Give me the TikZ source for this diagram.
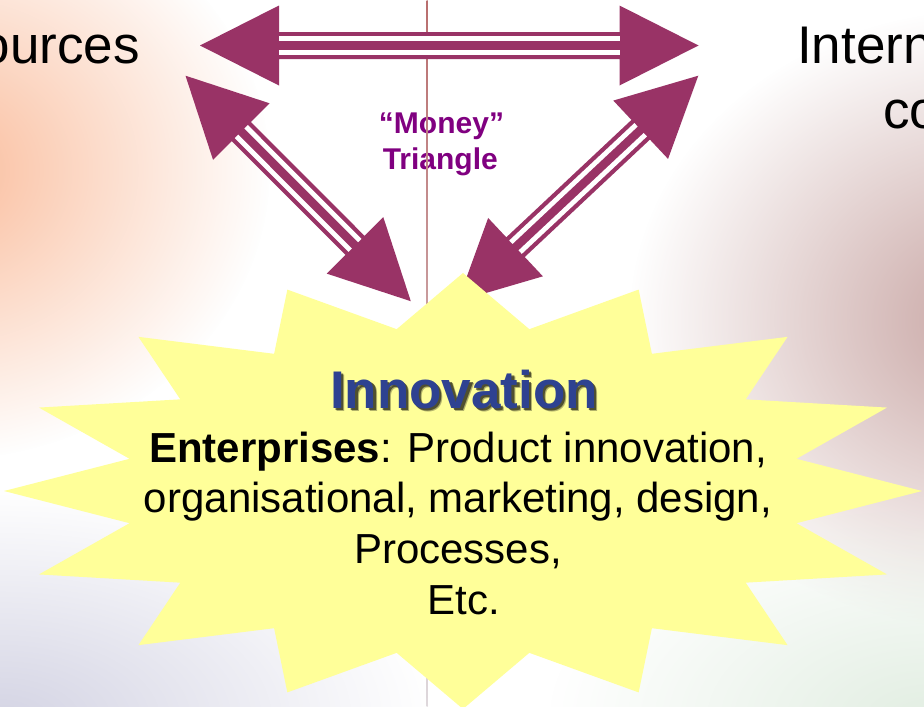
\documentclass[tikz,border=0pt]{standalone}
\usepackage{fontspec}
\setmainfont{Liberation Sans}
\usetikzlibrary{calc,fadings}
\tikzfading[name=blobfade, inner color=transparent!0, outer color=transparent!100]
\definecolor{arrowcol}{RGB}{153,51,102}
\definecolor{starcol}{RGB}{255,255,153}
\definecolor{moneycol}{RGB}{128,0,128}
\definecolor{innocol}{RGB}{46,66,145}
\definecolor{bgorange}{RGB}{250,188,155}
\definecolor{bgmauve}{RGB}{200,165,163}
\definecolor{bglav}{RGB}{212,212,228}
\definecolor{bggreen}{RGB}{226,238,226}
\definecolor{linetop}{RGB}{185,110,110}
\definecolor{linebot}{RGB}{222,216,220}
\def\HL{79pt}
\def\HW{40pt}
\def\SW{13.5pt}
\newcommand\triparrow[2]{%
  \fill[arrowcol] (#1)
    -- ($(#1)!\HL!(#2)!\HW!90:(#2)$) -- ($(#1)!\HL!(#2)!\SW!90:(#2)$)
    -- ($(#2)!\HL!(#1)!\SW!-90:(#1)$) -- ($(#2)!\HL!(#1)!\HW!-90:(#1)$)
    -- (#2)
    -- ($(#2)!\HL!(#1)!\HW!90:(#1)$) -- ($(#2)!\HL!(#1)!\SW!90:(#1)$)
    -- ($(#1)!\HL!(#2)!\SW!-90:(#2)$) -- ($(#1)!\HL!(#2)!\HW!-90:(#2)$)
    -- cycle;
  \foreach \o in {6.8pt,-6.8pt}
    \draw[white, line width=4.8pt] ($(#1)!\HL!(#2)!\o!90:(#2)$) -- ($(#2)!\HL!(#1)!\o!-90:(#1)$);
}
\tikzset{
  side/.style={inner sep=0pt, font=\fontsize{53}{63}\selectfont, text=black},
  money/.style={anchor=base, inner sep=0pt, font=\fontsize{30}{36}\selectfont\bfseries, text=moneycol},
  inno/.style={anchor=base, inner sep=0pt, font=\fontsize{53}{63}\selectfont\bfseries},
  body/.style={anchor=base, inner sep=0pt, font=\fontsize{42}{50}\selectfont, text=black},
}
\begin{document}
\begin{tikzpicture}[x=1pt,y=-1pt]
\useasboundingbox (0,0) rectangle (924,707);
\clip (0,0) rectangle (924,707);
% background
\fill[white] (0,0) rectangle (924,707);
\fill[bgorange, path fading=blobfade] (-60,170) ellipse (330 and 290);
\fill[bgmauve, path fading=blobfade] (990,320) ellipse (360 and 310);
\fill[bglav, path fading=blobfade] (0,720) ellipse (430 and 230);
\fill[bggreen, path fading=blobfade] (930,720) ellipse (380 and 210);
% money label
\node[money] (m1) at (441.5,133.3) {“Money”};
\node[money] (m2) at (440.3,169) {Triangle};
% thin vertical line
\shade[top color=linetop, bottom color=linebot] (426.6,0) rectangle (427.6,707);
% side labels
\node[side, anchor=base east] (src) at (140,63.3) {ources};
\node[side, anchor=base west] (intl) at (797,63.3) {Intern};
\node[side, anchor=base west] (co) at (883,128.5) {co};
% arrows
\coordinate (hL) at (200,45.5);
\coordinate (hR) at (698.5,45.5);
\coordinate (dLt) at (185.5,75.7);
\coordinate (dLb) at (410.8,301.2);
\coordinate (dRt) at (698.3,75.7);
\coordinate (dRb) at (457.9,301.2);
\triparrow{hL}{hR}
\triparrow{dLt}{dLb}
\triparrow{dRt}{dRb}
% star
\fill[starcol] (463,273)
  \foreach \k in {0,...,15} {
    -- ({463+340*sin(22.5*\k+11.25)},{491-165*cos(22.5*\k+11.25)})
    -- ({463+459*sin(22.5*(\k+1))},{491-218*cos(22.5*(\k+1))})
  } -- cycle;
% star text
\node[inno, text=black, opacity=0.3] (innosh2) at (467.3,411.6) {Innovation};
\node[inno, text=black, opacity=0.55] (innosh) at (466.3,410.6) {Innovation};
\node[inno, text=innocol] (inno) at (464,408.3) {Innovation};
\node[body] (l1) at (458,462) {\textbf{Enterprises}: Product innovation,};
\node[body] (l2) at (458,512.5) {organisational, marketing, design,};
\node[body] (l3) at (458,563.5) {Processes,};
\node[body] (l4) at (463.5,614) {Etc.};
\end{tikzpicture}
\end{document}
